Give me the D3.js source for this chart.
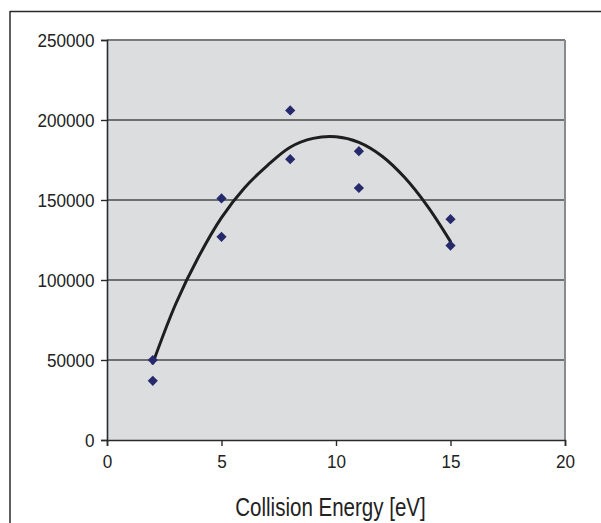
<!DOCTYPE html>
<html>
<head>
<meta charset="utf-8">
<script src="https://cdn.jsdelivr.net/npm/d3@7"></script>
<style>
  html, body { margin: 0; padding: 0; background: #fff; }
  svg { display: block; }
  text { font-family: "Liberation Sans", Arial, sans-serif; fill: #222; }
</style>
</head>
<body>
<script>
// Measured points (collision energy in eV, intensity)
const energies = [2, 2, 5, 5, 8, 8, 11, 11, 15, 15];
const intensities = [50000, 37000, 151000, 127000, 206000, 175500, 180500, 157500, 138000, 121500];

// Trend curve
const trendX = [2, 3, 4, 5, 6, 7, 8, 9, 10, 11, 12, 13, 14, 15];
const trendY = [48000, 85000, 114500, 139000, 157500, 171500, 183000, 188500, 189500, 186000, 177500, 164000, 146000, 124000];

const xTicks = [0, 5, 10, 15, 20];
const yTicks = [0, 50000, 100000, 150000, 200000, 250000];
const xTitle = "Collision Energy [eV]";

const W = 601, H = 523;
const plot = { left: 107, right: 565, top: 40, bottom: 440 };
const condense = 0.9;

const svg = d3.select("body").append("svg").attr("width", W).attr("height", H);

// outer frame lines
svg.append("line").attr("x1", 10).attr("x2", W).attr("y1", 11.5).attr("y2", 11.5)
  .attr("stroke", "#2a2a2a").attr("stroke-width", 1.5);
svg.append("line").attr("x1", 10).attr("x2", 10).attr("y1", 11).attr("y2", H)
  .attr("stroke", "#2a2a2a").attr("stroke-width", 1.5);

const x = d3.scaleLinear().domain([0, 20]).range([plot.left, plot.right]);
const y = d3.scaleLinear().domain([0, 250000]).range([plot.bottom, plot.top]);

// plot background
svg.append("rect").attr("x", plot.left).attr("y", plot.top)
  .attr("width", plot.right - plot.left).attr("height", plot.bottom - plot.top)
  .attr("fill", "#dcdddf");

// gridlines
svg.append("g").selectAll("line").data(yTicks.filter(d => d > 0 && d < 250000)).join("line")
  .attr("x1", plot.left).attr("x2", plot.right)
  .attr("y1", d => y(d)).attr("y2", d => y(d))
  .attr("stroke", "#4a4a4a").attr("stroke-width", 1.6);

// top and right border of plot
svg.append("line").attr("x1", plot.left).attr("x2", plot.right).attr("y1", plot.top).attr("y2", plot.top)
  .attr("stroke", "#7a7a7a").attr("stroke-width", 2);
svg.append("line").attr("x1", plot.right).attr("x2", plot.right).attr("y1", plot.top).attr("y2", plot.bottom)
  .attr("stroke", "#8a8a8a").attr("stroke-width", 2);

// axes
const xAxis = d3.axisBottom(x).tickValues(xTicks).tickSize(6).tickPadding(9).tickFormat(d3.format("d"));
const yAxis = d3.axisLeft(y).tickValues(yTicks).tickSize(6).tickPadding(8).tickFormat(d3.format("d"));

const gx = svg.append("g").attr("transform", `translate(0,${plot.bottom})`).call(xAxis);
const gy = svg.append("g").attr("transform", `translate(${plot.left},0)`).call(yAxis);
[gx, gy].forEach(g => {
  g.select(".domain").attr("stroke", "#2a2a2a").attr("stroke-width", 1.6);
  g.selectAll(".tick line").attr("stroke", "#2a2a2a").attr("stroke-width", 1.4);
  g.selectAll(".tick text").attr("font-size", 19).attr("fill", "#222")
    .style("font-family", '"Liberation Sans", Arial, sans-serif')
    .attr("transform", `scale(${condense},1)`);
});

// trend curve
const line = d3.line().x(d => x(d[0])).y(d => y(d[1])).curve(d3.curveCatmullRom.alpha(0.5));
svg.append("path").datum(trendX.map((v, i) => [v, trendY[i]]))
  .attr("d", line).attr("fill", "none").attr("stroke", "#1e1e1e").attr("stroke-width", 3)
  .attr("stroke-linejoin", "round").attr("stroke-linecap", "round");

// markers
const sym = d3.symbol().type(d3.symbolSquare).size(52);
svg.append("g").selectAll("path").data(energies.map((e, i) => [e, intensities[i]])).join("path")
  .attr("d", sym)
  .attr("transform", d => `translate(${x(d[0])},${y(d[1])}) rotate(45)`)
  .attr("fill", "#262a6c");

// x title
const titleX = 330.5;
svg.append("text").attr("transform", `translate(${titleX},516) scale(0.79,1)`)
  .attr("text-anchor", "middle").attr("font-size", 26).text(xTitle);
</script>
</body>
</html>
